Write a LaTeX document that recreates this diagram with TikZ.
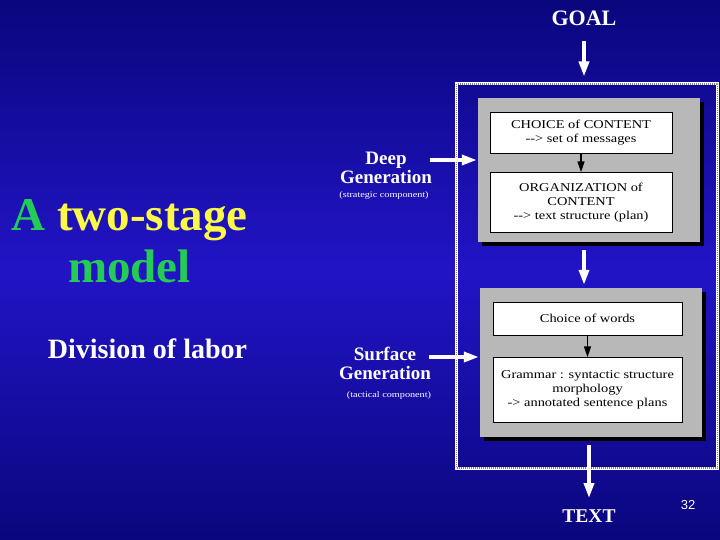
\documentclass[tikz,border=0pt]{standalone}
\usepackage{fontspec}
\setmainfont{Liberation Serif}
\setsansfont{Liberation Sans}
\newfontfamily\boxfont[FakeStretch=1.2]{Liberation Serif}
\usetikzlibrary{positioning}
\usetikzlibrary{arrows.meta}
\usetikzlibrary{shadows}
\definecolor{bgdark}{RGB}{10,6,125}
\definecolor{bgmid}{RGB}{34,20,198}
\definecolor{titlegreen}{RGB}{34,204,85}
\definecolor{titleyellow}{RGB}{250,250,70}
\definecolor{panelgray}{RGB}{184,184,184}
\tikzset{>={Triangle[width=10pt,length=15pt]}}
\tikzset{flow/.style={->, draw=white, line width=3.5pt}}
\tikzset{link/.style={-{Triangle[width=7pt,length=11pt]}, draw=black, line width=1.6pt}}
\tikzset{framebox/.style={draw=white, line width=3pt, postaction={draw=gray, line width=1.5pt, dash pattern=on 1pt off 1pt}}}
\tikzset{panel/.style={fill=panelgray, drop shadow={opacity=1, fill=black, shadow xshift=4pt, shadow yshift=-4pt}}}
\tikzset{stepbox/.style={draw=black, line width=0.6pt, fill=white, align=center, inner sep=0pt, font=\boxfont\fontsize{12}{14}\selectfont}}
\tikzset{lab/.style={text=white, align=center, inner sep=0pt, font=\bfseries\fontsize{19}{19}\selectfont}}
\tikzset{sublab/.style={text=white, anchor=base, inner sep=0pt, font=\boxfont\fontsize{8.5}{9}\selectfont}}
\tikzset{titlefont/.style={anchor=base, inner sep=0pt, font=\bfseries\fontsize{47}{47}\selectfont}}

\begin{document}
\begin{tikzpicture}[x=1pt, y=-1pt]
\shade[top color=bgdark, bottom color=bgdark, middle color=bgmid] (0,0) rectangle (720,540);
\useasboundingbox (0,0) rectangle (720,540);

\node[titlefont] (title) at (129.5,230) {\textcolor{titlegreen}{A} \textcolor{titleyellow}{two-stage}};
\node[titlefont, text=titlegreen] (model) at (129.5,282) {model};
\node[anchor=base, inner sep=0pt, text=white, font=\bfseries\fontsize{28}{28}\selectfont] (division) at (147.5,358) {Division of labor};

\node[framebox, minimum width=261pt, minimum height=384pt] (frame) at (587,276) {};

\node[panel, minimum width=222pt, minimum height=144pt] (deep) at (589,170) {};
\node[stepbox, minimum width=182pt, minimum height=41pt] (choice) at (581,132.5) {CHOICE of CONTENT\\-{}-> set of messages};
\node[stepbox, minimum width=182pt, minimum height=60pt, below=19pt of choice] (organize) {ORGANIZATION of\\CONTENT\\-{}-> text structure (plan)};

\node[panel, minimum width=222pt, minimum height=149pt] (surface) at (591,362.5) {};
\node[stepbox, minimum width=189pt, minimum height=33pt] (words) at (587.5,318.5) {Choice of words};
\node[stepbox, minimum width=189pt, minimum height=65pt, below=22pt of words] (grammar) {Grammar : syntactic structure\\morphology\\-> annotated sentence plans};

\node[anchor=base, inner sep=0pt, text=white, font=\bfseries\fontsize{22}{22}\selectfont] (goal) at (584,26) {GOAL};
\node[anchor=base, inner sep=0pt, text=white, font=\bfseries\fontsize{19.5}{20}\selectfont] (textout) at (589,522) {TEXT};
\node[anchor=base, inner sep=0pt, text=white, font=\sffamily\fontsize{13}{13}\selectfont] (slideno) at (688,509) {32};

\node[lab] (deeplab) at (386,168) {Deep\\Generation};
\node[sublab] (deepsub) at (384,198) {(strategic component)};
\node[lab] (surflab) at (385,363) {Surface\\Generation};
\node[sublab] (surfsub) at (389,397) {(tactical component)};

\coordinate (deepin) at (430,160);
\coordinate (surfin) at (429,357);

\draw[flow, shorten <=15pt, shorten >=6pt] (goal.south) -- (goal |- frame.north);
\draw[flow, shorten <=8pt, shorten >=3pt] (deep.south -| goal) -- (surface.north -| goal);
\draw[flow, shorten <=8pt, shorten >=11pt] (surface.south -| textout) -- (textout.north);
\draw[flow, shorten >=1pt] (deepin) -- (deepin -| deep.west);
\draw[flow, shorten >=1pt] (surfin) -- (surfin -| surface.west);

\draw[link] (choice) -- (organize);
\draw[link] (words) -- (grammar);
\end{tikzpicture}
\end{document}
